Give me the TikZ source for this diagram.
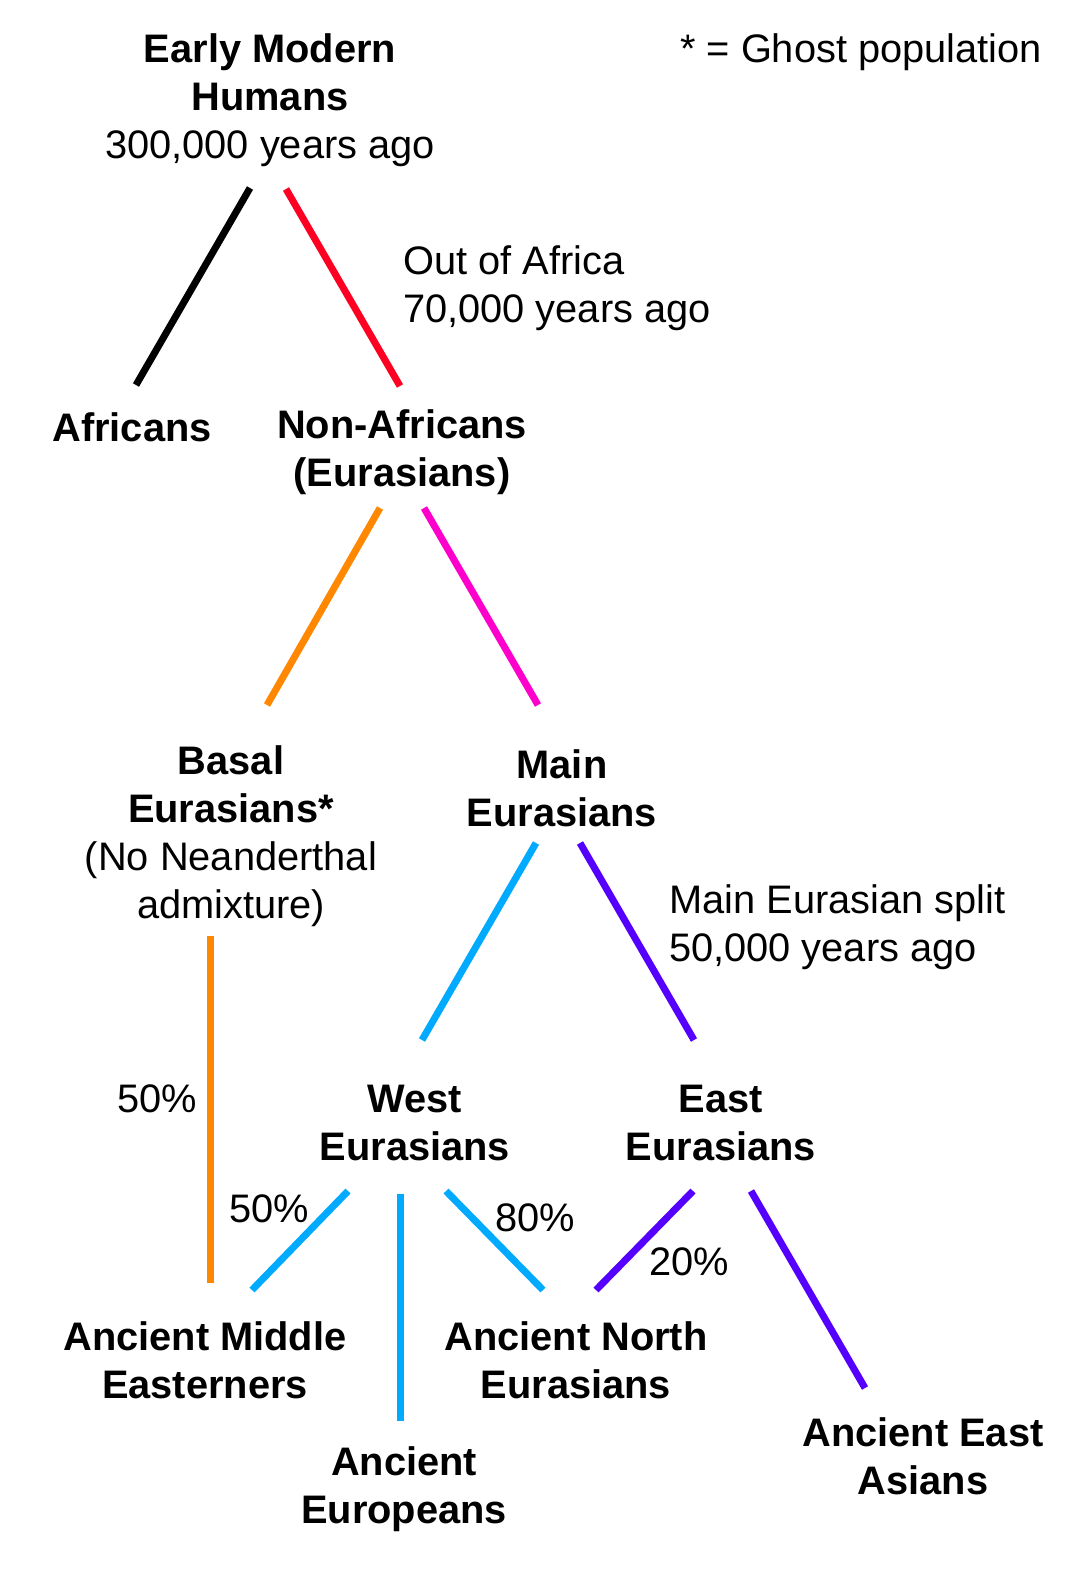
\documentclass[tikz,border=0pt]{standalone}
\usepackage{fontspec}
\setmainfont{Liberation Sans}
\definecolor{cRed}{HTML}{FF0022}
\definecolor{cOrange}{HTML}{FF8800}
\definecolor{cMagenta}{HTML}{FF00CC}
\definecolor{cBlue}{HTML}{00AAFF}
\definecolor{cPurple}{HTML}{5500FF}
\tikzset{
  lbl/.style={inner sep=0pt, align=center, font=\fontsize{39.8}{48}\selectfont},
  bl/.style={lbl, font=\fontsize{39.8}{48}\selectfont\bfseries},
  branch/.style={line width=7pt, line cap=butt},
}
\begin{document}
\begin{tikzpicture}[x=1pt,y=-1pt]
\useasboundingbox (0,0) rectangle (1068,1570);
\fill[white] (0,0) rectangle (1068,1570);
% labels
\node[lbl] (emh) at (270,100) {\textbf{Early Modern}\\\textbf{Humans}\\300,000 years ago};
\node[lbl, anchor=west] (ghost) at (680,52) {* = Ghost population};
\node[lbl, anchor=west, align=left] (ooa) at (403,288) {Out of Africa\\70,000 years ago};
\node[bl] (afr) at (132,427) {Africans};
\node[bl] (nafr) at (402,452) {Non-Africans\\(Eurasians)};
\node[lbl] (basal) at (231,836) {\textbf{Basal}\\\textbf{Eurasians*}\\(No Neanderthal\\admixture)};
\node[bl] (main) at (562,788) {Main\\Eurasians};
\node[lbl, anchor=west, align=left] (split) at (669,927) {Main Eurasian split\\50,000 years ago};
\node[bl] (west) at (415,1123) {West\\Eurasians};
\node[bl] (east) at (721,1123) {East\\Eurasians};
\node[lbl] (p1) at (157,1099) {50\%};
\node[lbl] (p2) at (269,1209) {50\%};
\node[lbl] (p3) at (535,1218) {80\%};
\node[lbl] (p4) at (689,1262) {20\%};
\node[bl] (ame) at (205,1360) {Ancient Middle\\Easterners};
\node[bl] (ane) at (576,1360) {Ancient North\\Eurasians};
\node[bl] (aeu) at (404,1489) {Ancient\\Europeans};
\node[bl] (aea) at (923,1456) {Ancient East\\Asians};
% connector end points
\coordinate (emhL) at (250,188);
\coordinate (emhR) at (286,189);
\coordinate (afrT) at (136,385);
\coordinate (nafrT) at (400,386);
\coordinate (nafrL) at (380,508);
\coordinate (nafrR) at (424,508);
\coordinate (basalT) at (267,705);
\coordinate (mainT) at (538,705);
\coordinate (mainL) at (536,843);
\coordinate (mainR) at (580,843);
\coordinate (westT) at (422,1040);
\coordinate (eastT) at (694,1040);
\coordinate (basalB) at (210,936);
\coordinate (ameTL) at (210,1283);
\coordinate (westL) at (348,1191);
\coordinate (ameTR) at (252,1290);
\coordinate (westM) at (400,1194);
\coordinate (aeuT) at (400,1421);
\coordinate (westR) at (446,1191);
\coordinate (aneTL) at (543,1290);
\coordinate (eastL) at (693,1191);
\coordinate (aneTR) at (596,1290);
\coordinate (eastR) at (751,1191);
\coordinate (aeaT) at (865,1388);
% branches
\draw[branch, black] (emhL) -- (afrT);
\draw[branch, cRed] (emhR) -- (nafrT);
\draw[branch, cOrange] (nafrL) -- (basalT);
\draw[branch, cMagenta] (nafrR) -- (mainT);
\draw[branch, cBlue] (mainL) -- (westT);
\draw[branch, cPurple] (mainR) -- (eastT);
\draw[branch, cOrange] (basalB) -- (ameTL);
\draw[branch, cBlue] (westL) -- (ameTR);
\draw[branch, cBlue] (westM) -- (aeuT);
\draw[branch, cBlue] (westR) -- (aneTL);
\draw[branch, cPurple] (eastL) -- (aneTR);
\draw[branch, cPurple] (eastR) -- (aeaT);
\end{tikzpicture}
\end{document}
